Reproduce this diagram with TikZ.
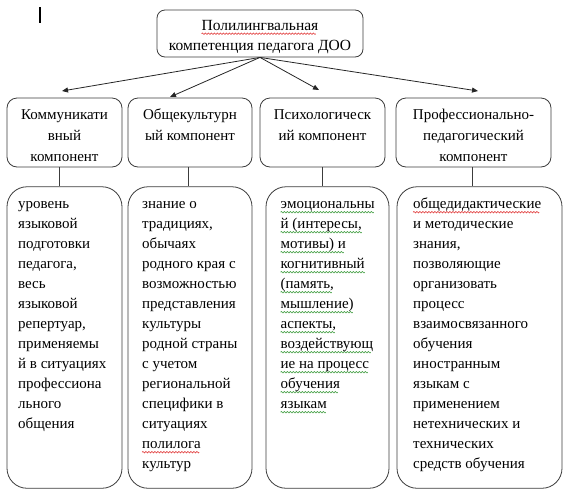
\documentclass[tikz,border=0pt]{standalone}
\usepackage{fontspec}
\setmainfont{Liberation Serif}
\usetikzlibrary{arrows.meta}
\definecolor{wavegreen}{RGB}{70,160,70}
\definecolor{wavered}{RGB}{225,60,60}
\definecolor{edge}{RGB}{60,60,60}
\newsavebox\gwbox
\newsavebox\rwbox
\newsavebox\wvtmp
\newcommand\makewave[2]{%
  \sbox#1{\pgfpicture
    \pgfsetlinewidth{0.6pt}%
    \pgfsetstrokecolor{#2}%
    \pgfpathmoveto{\pgfpoint{0pt}{0pt}}%
    \pgfpathcurveto{\pgfpoint{0.75pt}{1pt}}{\pgfpoint{0.75pt}{1pt}}{\pgfpoint{1.5pt}{0pt}}%
    \pgfpathcurveto{\pgfpoint{2.25pt}{-1pt}}{\pgfpoint{2.25pt}{-1pt}}{\pgfpoint{3pt}{0pt}}%
    \pgfusepath{stroke}%
    \pgfresetboundingbox
    \pgfpathrectanglecorners{\pgfpointorigin}{\pgfpoint{3pt}{0pt}}%
    \pgfusepath{use as bounding box}%
  \endpgfpicture}}
\newcommand\wv[2]{\sbox\wvtmp{#2}\rlap{\raisebox{-3.5pt}{\hbox to \wd\wvtmp{\leaders\copy#1\hfill}}}\usebox\wvtmp}
\begin{document}
\makewave\gwbox{wavegreen}%
\makewave\rwbox{wavered}%
\begin{tikzpicture}[x=1pt,y=-1pt,
  rbox/.style={draw=edge, line width=0.8pt, rounded corners=#1, inner sep=0pt},
  toptxt/.style={font=\fontsize{15.5}{20}\selectfont, align=center, inner sep=0pt, anchor=north},
  midtxt/.style={font=\fontsize{15}{21}\selectfont, align=center, inner sep=0pt, anchor=north},
  lowtxt/.style={font=\fontsize{15}{20}\selectfont, align=left, inner sep=0pt, anchor=north west},
  arr/.style={draw=black!85, line width=0.8pt, -{Triangle[length=6pt,width=5pt]}},
  link/.style={draw=edge, line width=0.8pt}]
\useasboundingbox (0,0) rectangle (572,496);

% cursor mark
\coordinate (cur1) at (40,7);
\coordinate (cur2) at (40,23);
\draw[line width=1.3pt] (cur1) -- (cur2);

% top box
\node[rbox=8pt, minimum width=206pt, minimum height=47pt] (top) at (260,33.5) {};
\node[toptxt] (toptext) at (260,16) {\strut\wv\rwbox{Полилингвальная}\\компетенция педагога ДОО};

% second row
\node[rbox=10pt, minimum width=115pt, minimum height=69pt] (ra) at (64.5,132.5) {};
\node[rbox=10pt, minimum width=124pt, minimum height=69pt] (rb) at (190,132.5) {};
\node[rbox=10pt, minimum width=125pt, minimum height=69pt] (rc) at (322.5,132.5) {};
\node[rbox=10pt, minimum width=155pt, minimum height=69pt] (rd) at (473.5,132.5) {};
\node[midtxt] (rat) at (64.5,104.3) {\strut Коммуникати\\вный\\компонент};
\node[midtxt] (rbt) at (190,104.3) {\strut Общекультурн\\ый компонент};
\node[midtxt] (rct) at (322.5,104.3) {\strut Психологическ\\ий компонент};
\node[midtxt] (rdt) at (473.5,104.3) {\strut Профессионально-\\педагогический\\компонент};

% arrow ends
\coordinate (ea) at (62,91);
\coordinate (eb) at (170,97);
\coordinate (ec) at (319,90);
\coordinate (ed) at (478,91);
\draw[arr] (top.south) -- (ea);
\draw[arr] (top.south) -- (eb);
\draw[arr] (top.south) -- (ec);
\draw[arr] (top.south) -- (ed);

% third row
\node[rbox=20pt, minimum width=115pt, minimum height=301.5pt] (la) at (64.5,337.5) {};
\node[rbox=20pt, minimum width=124pt, minimum height=301.5pt] (lb) at (190,337.5) {};
\node[rbox=20pt, minimum width=123pt, minimum height=301.5pt] (lc) at (327.5,337.5) {};
\node[rbox=20pt, minimum width=165pt, minimum height=301.5pt] (ld) at (479.5,337.5) {};

\draw[link] ([xshift=-5.5pt]ra.south) -- ([xshift=-5.5pt]ra.south |- la.north);
\draw[link] ([xshift=-2pt]rb.south) -- ([xshift=-2pt]rb.south |- lb.north);
\draw[link] (rc.south) -- (rc.south |- lc.north);
\draw[link] ([xshift=-1.5pt]rd.south) -- ([xshift=-1.5pt]rd.south |- ld.north);

\node[lowtxt] (lat) at (18,194.5) {\strut уровень\\языковой\\подготовки\\педагога,\\весь\\языковой\\репертуар,\\применяемы\\й в ситуациях\\профессиона\\льного\\общения};
\node[lowtxt] (lbt) at (142,194.5) {\strut знание о\\традициях,\\обычаях\\родного края с\\возможностью\\представления\\культуры\\родной страны\\с учетом\\региональной\\специфики в\\ситуациях\\\wv\rwbox{полилога}\\культур};
\node[lowtxt] (lct) at (280.5,194.5) {\strut\wv\gwbox{эмоциональны}\\\wv\gwbox{й (интересы,}\\\wv\gwbox{мотивы) и}\\\wv\gwbox{когнитивный}\\\wv\gwbox{(память,}\\\wv\gwbox{мышление)}\\\wv\gwbox{аспекты,}\\\wv\gwbox{воздействующ}\\\wv\gwbox{ие на процесс}\\\wv\gwbox{обучения}\\\wv\gwbox{языкам}};
\node[lowtxt] (ldt) at (413,194.5) {\strut\wv\rwbox{общедидактические}\\и методические\\знания,\\позволяющие\\организовать\\процесс\\взаимосвязанного\\обучения\\иностранным\\языкам с\\применением\\нетехнических и\\технических\\средств обучения};
\end{tikzpicture}
\end{document}
